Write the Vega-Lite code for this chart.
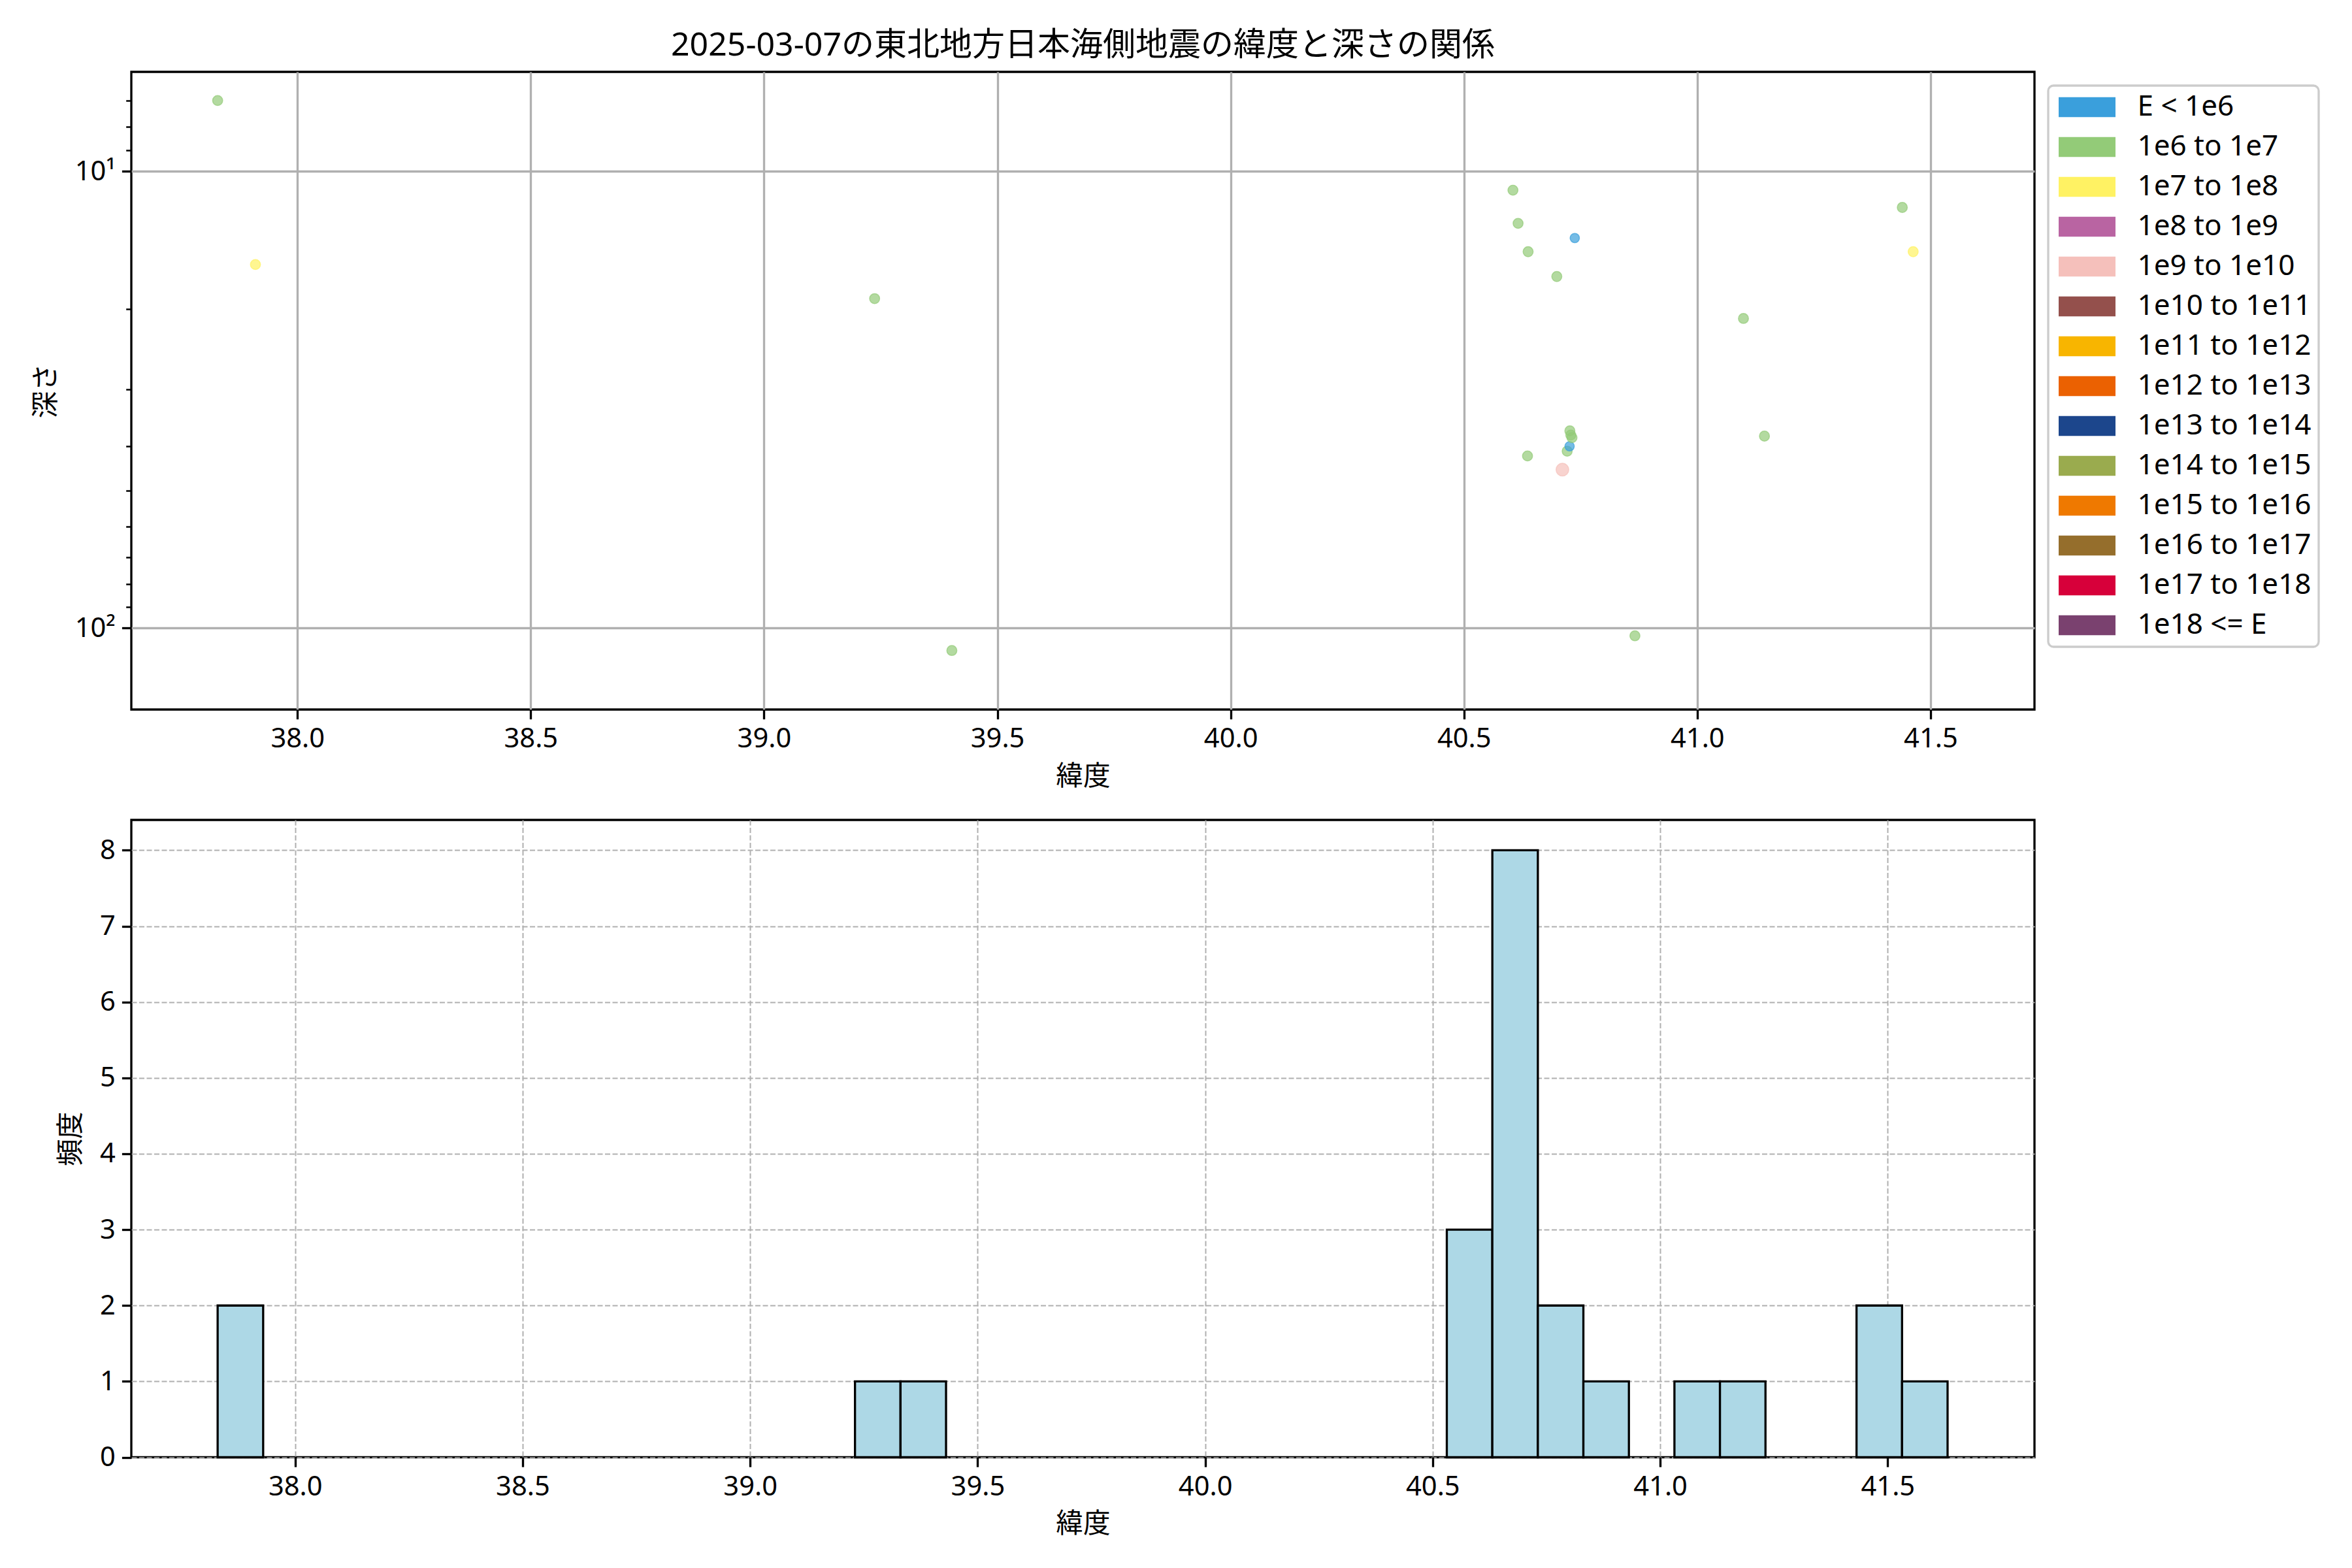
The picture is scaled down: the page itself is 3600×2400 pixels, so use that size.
{
  "$schema": "https://vega.github.io/schema/vega-lite/v6.json",
  "background": "white",
  "padding": {"left": 48, "top": 43, "right": 20, "bottom": 20},
  "config": {
    "font": "'Noto Sans', 'Noto Sans CJK JP'",
    "view": {"stroke": "black", "strokeWidth": 3.33},
    "axis": {
      "labelFontSize": 41.67,
      "titleFontSize": 41.67,
      "labelColor": "black",
      "titleColor": "black",
      "titleFontWeight": "normal",
      "tickColor": "black",
      "tickWidth": 3.33,
      "tickSize": 14.6,
      "labelPadding": 10,
      "domain": false,
      "gridColor": "#b0b0b0",
      "gridWidth": 3.33
    }
  },
  "datasets": {
    "quakes": [
      {"lat": 37.829, "depth": 7.0, "cls": "1e6 to 1e7"},
      {"lat": 37.910, "depth": 16.0, "cls": "1e7 to 1e8"},
      {"lat": 39.237, "depth": 19.0, "cls": "1e6 to 1e7"},
      {"lat": 39.4025, "depth": 112, "cls": "1e6 to 1e7"},
      {"lat": 40.580, "depth": null, "cls": "1e6 to 1e7"},
      {"lat": 40.605, "depth": 11.0, "cls": "1e6 to 1e7"},
      {"lat": 40.616, "depth": 13.0, "cls": "1e6 to 1e7"},
      {"lat": 40.6362, "depth": 42, "cls": "1e6 to 1e7"},
      {"lat": 40.6375, "depth": 15.0, "cls": "1e6 to 1e7"},
      {"lat": 40.699, "depth": 17.0, "cls": "1e6 to 1e7"},
      {"lat": 40.711, "depth": 45, "cls": "1e9 to 1e10"},
      {"lat": 40.7212, "depth": 41, "cls": "1e6 to 1e7"},
      {"lat": 40.7264, "depth": 40, "cls": "E < 1e6"},
      {"lat": 40.727, "depth": 37, "cls": "1e6 to 1e7"},
      {"lat": 40.729, "depth": 37.8, "cls": "1e6 to 1e7"},
      {"lat": 40.7315, "depth": 38.3, "cls": "1e6 to 1e7"},
      {"lat": 40.7375, "depth": 14.0, "cls": "E < 1e6"},
      {"lat": 40.8664, "depth": 104, "cls": "1e6 to 1e7"},
      {"lat": 41.099, "depth": 21, "cls": "1e6 to 1e7"},
      {"lat": 41.144, "depth": 38, "cls": "1e6 to 1e7"},
      {"lat": 41.4394, "depth": 12, "cls": "1e6 to 1e7"},
      {"lat": 41.4627, "depth": 15, "cls": "1e7 to 1e8"},
      {"lat": 41.630, "depth": null, "cls": "1e6 to 1e7"}
    ]
  },
  "spacing": 41,
  "vconcat": [
    {
      "title": {"text": "2025-03-07の東北地方日本海側地震の緯度と深さの関係", "fontSize": 50, "fontWeight": "normal", "color": "black", "offset": 15},
      "width": 2913,
      "height": 976,
      "data": {"name": "quakes"},
      "mark": {"type": "point", "filled": true, "fillOpacity": 0.7, "strokeOpacity": 0.7, "strokeWidth": 1.5, "clip": true},
      "encoding": {
        "x": {
          "field": "lat", "type": "quantitative",
          "scale": {"domain": [37.644, 41.7227], "nice": false, "zero": false},
          "axis": {"title": "緯度", "values": [38, 38.5, 39, 39.5, 40, 40.5, 41, 41.5], "format": ".1f", "titlePadding": 16}
        },
        "y": {
          "field": "depth", "type": "quantitative",
          "scale": {"type": "log", "domain": [6.058, 150.8], "reverse": true, "nice": false},
          "axis": {
            "title": "深さ",
            "values": [7, 8, 9, 10, 20, 30, 40, 50, 60, 70, 80, 90, 100],
            "labelExpr": "datum.value == 10 ? '10¹' : datum.value == 100 ? '10²' : ''",
            "tickSize": {"condition": {"test": "datum.value == 10 || datum.value == 100", "value": 14.6}, "value": 8.3},
            "tickWidth": {"condition": {"test": "datum.value == 10 || datum.value == 100", "value": 3.33}, "value": 2.5},
            "gridOpacity": {"condition": {"test": "datum.value == 10 || datum.value == 100", "value": 1}, "value": 0},
            "titlePadding": 22
          }
        },
        "fill": {
          "field": "cls", "type": "nominal",
          "scale": {
            "domain": ["E < 1e6", "1e6 to 1e7", "1e7 to 1e8", "1e8 to 1e9", "1e9 to 1e10", "1e10 to 1e11", "1e11 to 1e12", "1e12 to 1e13", "1e13 to 1e14", "1e14 to 1e15", "1e15 to 1e16", "1e16 to 1e17", "1e17 to 1e18", "1e18 <= E"],
            "range": ["#3a9fdc", "#93cb78", "#fff263", "#b964a2", "#f5c0bb", "#94504c", "#f8b500", "#eb6101", "#1c468c", "#9aab4e", "#ef7900", "#956e2c", "#d7003a", "#7a416f"]
          },
          "legend": {
            "title": null,
            "orient": "none",
            "legendX": 2934,
            "legendY": 21,
            "symbolType": "M-2,-0.7H2V0.7H-2Z",
            "symbolSize": 1892,
            "symbolStrokeWidth": 0,
            "symbolOpacity": 1,
            "symbolOffset": 26.5,
            "labelOffset": 55,
            "labelFontSize": 44,
            "labelColor": "black",
            "labelLimit": 500,
            "rowPadding": 17,
            "padding": 11,
            "strokeColor": "#cccccc",
            "cornerRadius": 8,
            "fillColor": "white",
            "encode": {
              "symbols": {"update": {"fillOpacity": {"value": 1}, "opacity": {"value": 1}}},
              "legend": {"update": {"strokeWidth": {"value": 3.33}}}
            }
          }
        },
        "stroke": {
          "field": "cls", "type": "nominal",
          "scale": {
            "domain": ["E < 1e6", "1e6 to 1e7", "1e7 to 1e8", "1e8 to 1e9", "1e9 to 1e10", "1e10 to 1e11", "1e11 to 1e12", "1e12 to 1e13", "1e13 to 1e14", "1e14 to 1e15", "1e15 to 1e16", "1e16 to 1e17", "1e17 to 1e18", "1e18 <= E"],
            "range": ["#3a9fdc", "#93cb78", "#fff263", "#b964a2", "#f5c0bb", "#94504c", "#f8b500", "#eb6101", "#1c468c", "#9aab4e", "#ef7900", "#956e2c", "#d7003a", "#7a416f"]
          },
          "legend": null
        },
        "size": {
          "condition": [
            {"test": "datum.cls == '1e9 to 1e10'", "value": 380},
            {"test": "datum.cls == 'E < 1e6'", "value": 205}
          ],
          "value": 235
        }
      }
    },
    {
      "width": 2913,
      "height": 975.5,
      "data": {"name": "quakes"},
      "mark": {"type": "bar", "fill": "#add8e6", "stroke": "black", "strokeWidth": 3.3, "binSpacing": 0},
      "encoding": {
        "x": {
          "field": "lat", "type": "quantitative",
          "bin": {"extent": [37.829, 41.632], "step": 0.10005, "nice": false},
          "scale": {"domain": [37.640, 41.8226], "nice": false, "zero": false},
          "axis": {"title": "緯度", "values": [38, 38.5, 39, 39.5, 40, 40.5, 41, 41.5], "format": ".1f", "grid": true, "gridDash": [8, 3.5], "gridWidth": 2, "titlePadding": 16}
        },
        "y": {
          "aggregate": "count", "type": "quantitative",
          "scale": {"domain": [0, 8.4], "nice": false},
          "axis": {"title": "頻度", "values": [0, 1, 2, 3, 4, 5, 6, 7, 8], "format": "d", "grid": true, "gridDash": [8, 3.5], "gridWidth": 2, "titlePadding": 22}
        }
      }
    }
  ]
}
